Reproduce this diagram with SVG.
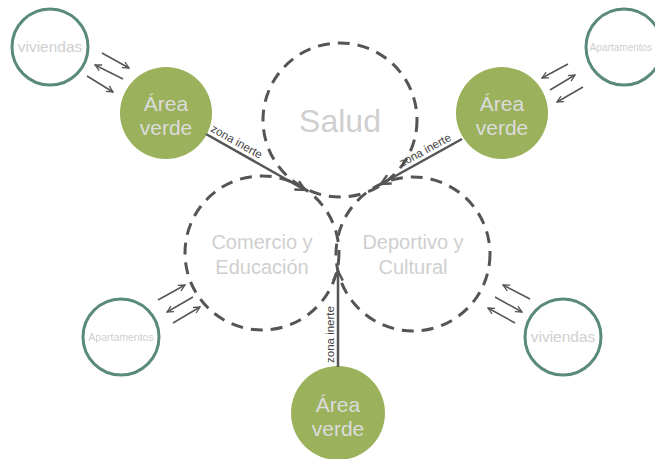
<svg xmlns="http://www.w3.org/2000/svg" width="655" height="459" viewBox="0 0 655 459">
<style>
.dash{fill:none;stroke:#555;stroke-width:3;stroke-dasharray:12 8}
.ring{fill:#fff;stroke:#5a8a7c;stroke-width:3}
.green{fill:#9bb15c}
.t{font-family:"Liberation Sans",Arial,sans-serif;fill:#cfcfcf;text-anchor:middle}
.gt{font-family:"Liberation Sans",Arial,sans-serif;fill:#dcdcdc;text-anchor:middle;font-size:21px}
.sm{stroke:#555;stroke-width:1.5;fill:none}
.zl{stroke:#555;stroke-width:2.5;fill:none}
.zt{font-family:"Liberation Sans",Arial,sans-serif;fill:#444;font-size:11.5px}
</style>
<defs>
<marker id="a" viewBox="0 0 10 10" refX="9" refY="5" markerWidth="8" markerHeight="8" markerUnits="userSpaceOnUse" orient="auto">
<path d="M1,1 L9,5 L1,9" fill="none" stroke="#555" stroke-width="1.6"/>
</marker>
<marker id="b" viewBox="0 0 10 10" refX="9" refY="5" markerWidth="12" markerHeight="12" markerUnits="userSpaceOnUse" orient="auto">
<path d="M1,1 L9,5 L1,9" fill="none" stroke="#555" stroke-width="2"/>
</marker>
</defs>
<g id="salud"><circle class="dash" cx="340" cy="120" r="77"/><text class="t" x="340" y="132" font-size="32">Salud</text></g>
<g id="comercio"><circle class="dash" cx="262" cy="253" r="77"/><text class="t" x="262" y="249" font-size="20">Comercio y</text><text class="t" x="262" y="274" font-size="20">Educación</text></g>
<g id="deportivo"><circle class="dash" cx="413" cy="254" r="77"/><text class="t" x="413" y="249" font-size="20">Deportivo y</text><text class="t" x="413" y="274" font-size="20">Cultural</text></g>
<g id="viviendas1"><circle class="ring" cx="50" cy="47" r="38"/><text class="t" x="50" y="52" font-size="15.5">viviendas</text></g>
<g id="apartamentos1"><circle class="ring" cx="624" cy="47" r="38"/><text class="t" x="621" y="51" font-size="10">Apartamentos</text></g>
<g id="apartamentos2"><circle class="ring" cx="121" cy="337" r="38"/><text class="t" x="121" y="341" font-size="10.5">Apartamentos</text></g>
<g id="viviendas2"><circle class="ring" cx="563" cy="337" r="38"/><text class="t" x="563" y="342" font-size="15.5">viviendas</text></g>
<g id="verde1"><circle class="green" cx="166" cy="113" r="46"/><text class="gt" x="166" y="111">Área</text><text class="gt" x="166" y="135">verde</text></g>
<g id="verde2"><circle class="green" cx="502" cy="113" r="46"/><text class="gt" x="502" y="111">Área</text><text class="gt" x="502" y="135">verde</text></g>
<g id="verde3"><circle class="green" cx="338" cy="413" r="47"/><text class="gt" x="338" y="412">Área</text><text class="gt" x="338" y="436">verde</text></g>
<g id="connectors">
<line class="zl" x1="206" y1="134" x2="305" y2="190" marker-end="url(#b)"/>
<line class="zl" x1="462" y1="139" x2="381" y2="184" marker-end="url(#b)"/>
<line class="zl" x1="338" y1="367" x2="338" y2="271" marker-end="url(#b)"/>
<text class="zt" transform="translate(210,131) rotate(29.5)">zona inerte</text>
<text class="zt" transform="translate(402,167) rotate(-28.5)">zona inerte</text>
<text class="zt" transform="translate(334,363) rotate(-90)">zona inerte</text>
<line class="sm" x1="102" y1="53" x2="129" y2="68" marker-end="url(#a)"/>
<line class="sm" x1="123" y1="79" x2="95" y2="65" marker-end="url(#a)"/>
<line class="sm" x1="87" y1="76" x2="113" y2="92" marker-end="url(#a)"/>
<line class="sm" x1="568" y1="64" x2="542" y2="78" marker-end="url(#a)"/>
<line class="sm" x1="550" y1="90" x2="575" y2="75" marker-end="url(#a)"/>
<line class="sm" x1="583" y1="87" x2="557" y2="102" marker-end="url(#a)"/>
<line class="sm" x1="158" y1="300" x2="185" y2="285" marker-end="url(#a)"/>
<line class="sm" x1="193" y1="297" x2="167" y2="312" marker-end="url(#a)"/>
<line class="sm" x1="173" y1="323" x2="200" y2="307" marker-end="url(#a)"/>
<line class="sm" x1="530" y1="299" x2="503" y2="285" marker-end="url(#a)"/>
<line class="sm" x1="495" y1="297" x2="522" y2="312" marker-end="url(#a)"/>
<line class="sm" x1="515" y1="323" x2="488" y2="308" marker-end="url(#a)"/>
</g>
</svg>
